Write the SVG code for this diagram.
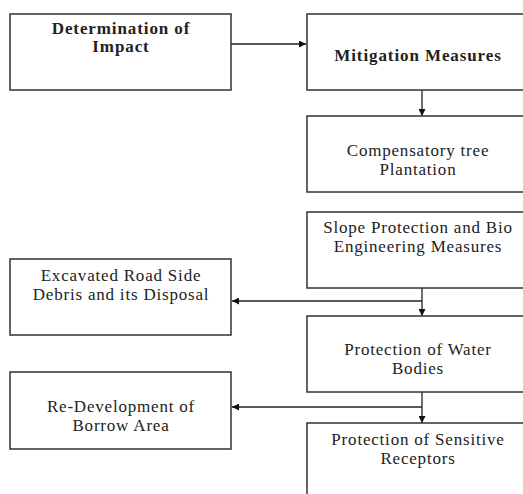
<svg xmlns="http://www.w3.org/2000/svg" width="523" height="494" viewBox="0 0 523 494">
<style>
rect{fill:#fff;stroke:#333;stroke-width:1.5}
text{font-family:"Liberation Serif","Times New Roman",serif;font-size:17px;letter-spacing:0.8px;fill:#222;text-anchor:middle}
.b{font-weight:bold;letter-spacing:0.9px}
.c{stroke:#222;stroke-width:1.3;fill:none}
</style>
<defs>
<marker id="a" viewBox="0 0 10 10" refX="10" refY="5" markerWidth="7" markerHeight="7" orient="auto" markerUnits="userSpaceOnUse"><path d="M0,0L10,5L0,10z" fill="#111"/></marker>
</defs>
<rect width="523" height="494" style="stroke:none"/>
<g id="connectors">
<path class="c" d="M231,44H306" marker-end="url(#a)"/>
<path class="c" d="M422,90V116" marker-end="url(#a)"/>
<path class="c" d="M422,288V316" marker-end="url(#a)"/>
<path class="c" d="M422,301H232" marker-end="url(#a)"/>
<path class="c" d="M422,392V423" marker-end="url(#a)"/>
<path class="c" d="M422,407H232" marker-end="url(#a)"/>
</g>
<g id="n1"><rect x="10" y="14" width="221" height="76"/><text class="b" x="121" y="34">Determination of</text><text class="b" x="121" y="52">Impact</text></g>
<g id="n2"><rect x="307" y="14" width="230" height="76"/><text class="b" x="418" y="61">Mitigation Measures</text></g>
<g id="n3"><rect x="307" y="116" width="230" height="76"/><text x="418" y="156">Compensatory tree</text><text x="418" y="175">Plantation</text></g>
<g id="n4"><rect x="307" y="212" width="230" height="76"/><text x="418" y="233">Slope Protection and Bio</text><text x="418" y="252">Engineering Measures</text></g>
<g id="n5"><rect x="10" y="259" width="221" height="76"/><text x="121" y="281">Excavated Road Side</text><text x="121" y="300">Debris and its Disposal</text></g>
<g id="n6"><rect x="307" y="316" width="230" height="76"/><text x="418" y="355">Protection of Water</text><text x="418" y="374">Bodies</text></g>
<g id="n7"><rect x="10" y="372" width="221" height="77"/><text x="121" y="412">Re-Development of</text><text x="121" y="431">Borrow Area</text></g>
<g id="n8"><rect x="307" y="423" width="230" height="90"/><text x="418" y="445">Protection of Sensitive</text><text x="418" y="464">Receptors</text></g>
</svg>
